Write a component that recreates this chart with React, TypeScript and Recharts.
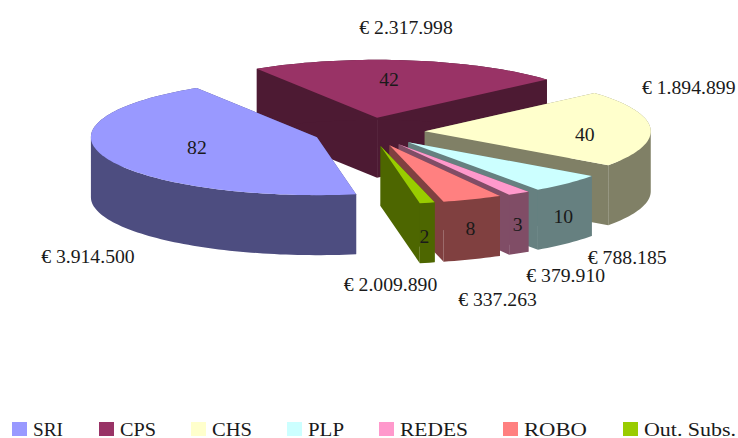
import React from "react";
import { PieChart, Pie, Legend } from "recharts";

const categories = ["SRI", "CPS", "CHS", "PLP", "REDES", "ROBO", "Out. Subs."];
const counts = [82, 42, 40, 10, 3, 8, 2];
const amounts = ["€ 3.914.500", "€ 2.317.998", "€ 1.894.899", "€ 788.185", "€ 379.910", "€ 337.263", "€ 2.009.890"];

const topColors = ["#9999FF", "#993366", "#FFFFCC", "#CCFFFF", "#FF99CC", "#FF8080", "#99CC00"];
const wallColors = ["#4D4D80", "#4D1A33", "#808066", "#668080", "#804D66", "#804040", "#4D6600"];

const WIDTH = 738;
const HEIGHT = 438;
const FONT = '"Liberation Serif", serif';
const SQUASH = 58 / 226;
const EXPLODE = 0.247;
const DEPTH = 60;

const countOffsets = [[-120, 10], [12, -39], [160, 3], [155, 74], [119, 80], [81, 83], [44, 90]];
const amountOffsets = [[-229, 119], [29, -91], [264, -44], [219, 115], [167, 131], [108, 154], [10, 138]];
const legendX = [12, 99, 191, 287, 379, 503, 623];
const legendTextWidth = [30, 36, 40, 36, 68, 63, 92];

const rows = categories.map((name, i) => ({ name, value: counts[i], fill: topColors[i] }));
const RAD = Math.PI / 180;

function sliceCentre(cx: number, cy: number, r: number, mid: number) {
  return {
    x: cx + EXPLODE * r * Math.cos(mid * RAD),
    y: cy - EXPLODE * r * SQUASH * Math.sin(mid * RAD),
  };
}

function Slice3D(props: any, only: (i: number) => boolean) {
  const { cx, cy, outerRadius: r, startAngle, endAngle, index } = props;
  if (!only(index)) return <g />;
  const c = sliceCentre(cx, cy, r, (startAngle + endAngle) / 2);
  const arc: number[][] = [];
  const steps = Math.max(2, Math.ceil(Math.abs(endAngle - startAngle) / 1.5));
  for (let s = 0; s <= steps; s++) {
    const a = (startAngle + ((endAngle - startAngle) * s) / steps) * RAD;
    arc.push([c.x + r * Math.cos(a), c.y - r * SQUASH * Math.sin(a)]);
  }
  const first = arc[0];
  const last = arc[arc.length - 1];
  const pts = (list: number[][]) => list.map(([x, y]) => `${x},${y}`).join(" ");
  const wall = wallColors[index];
  const down = ([x, y]: number[]) => [x, y + DEPTH];
  const apex = [c.x, c.y];
  // One path per wall, every quad wound the same way so the folds at the ellipse tips stay filled.
  const quadPath = (a: number[], b: number[]) => {
    const [l, m] = a[0] <= b[0] ? [a, b] : [b, a];
    const dl = down(l);
    const dm = down(m);
    return `M${l[0]},${l[1]}L${m[0]},${m[1]}L${dm[0]},${dm[1]}L${dl[0]},${dl[1]}Z`;
  };
  const wallPath = arc.slice(1).map((p, i) => quadPath(arc[i], p)).join("");
  return (
    <g>
      <polygon points={pts([apex, first, down(first), down(apex)])} fill={wall} />
      <polygon points={pts([apex, last, down(last), down(apex)])} fill={wall} />
      <path d={wallPath} fill={wall} />
      <polygon points={pts([apex, ...arc])} fill={topColors[index]} />
    </g>
  );
}

function SliceLabels(props: any) {
  const { cx, cy, outerRadius: r, midAngle, index } = props;
  const c = sliceCentre(cx, cy, r, midAngle);
  const style = { fontFamily: FONT, fontSize: 19.7, fill: "#1a1a1a" };
  return (
    <g>
      <text x={c.x + countOffsets[index][0]} y={c.y + countOffsets[index][1]} textAnchor="middle" dominantBaseline="central" style={style}>
        {counts[index]}
      </text>
      <text x={c.x + amountOffsets[index][0]} y={c.y + amountOffsets[index][1]} textAnchor="middle" dominantBaseline="central" style={style}>
        {amounts[index]}
      </text>
    </g>
  );
}

function LegendRow(props: any) {
  const seen = new Set<string>();
  const items: any[] = (props.payload || []).filter((it: any) => {
    const key = String(it.value);
    if (seen.has(key)) return false;
    seen.add(key);
    return true;
  });
  const ordered = categories.map((c) => items.find((it) => it.value === c)).filter(Boolean);
  return (
    <svg width={WIDTH} height={23} style={{ display: "block" }}>
      {ordered.map((it: any, i: number) => (
        <g key={String(it.value)}>
          <rect x={legendX[i]} y={7} width={15} height={14} fill={topColors[i]} />
          <text
            x={legendX[i] + 21}
            y={21}
            textLength={legendTextWidth[i]}
            lengthAdjust="spacingAndGlyphs"
            style={{ fontFamily: FONT, fontSize: 19.5, fill: "#1a1a1a" }}
          >
            {it.value}
          </text>
        </g>
      ))}
    </svg>
  );
}

export default function App() {
  return (
    <div style={{ position: "absolute", left: 0, top: 0, width: WIDTH, height: HEIGHT }}>
      <PieChart width={WIDTH} height={HEIGHT} margin={{ top: 0, right: 0, bottom: 0, left: 0 }}>
        <Pie
          data={rows}
          dataKey="value"
          nameKey="name"
          cx={369}
          cy={132}
          innerRadius={0}
          outerRadius={226}
          startAngle={-80}
          endAngle={-440}
          stroke="none"
          legendType="none"
          isAnimationActive={false}
          shape={(p: any) => Slice3D(p, (i) => i === 1)}
        />
        <Pie
          data={rows}
          dataKey="value"
          nameKey="name"
          cx={369}
          cy={132}
          innerRadius={0}
          outerRadius={226}
          startAngle={-80}
          endAngle={-440}
          stroke="none"
          isAnimationActive={false}
          labelLine={false}
          label={SliceLabels}
          shape={(p: any) => Slice3D(p, (i) => i !== 1)}
        />
        <Legend
          content={LegendRow}
          wrapperStyle={{ left: 0, top: 415, width: WIDTH, height: 23 }}
        />
      </PieChart>
    </div>
  );
}
